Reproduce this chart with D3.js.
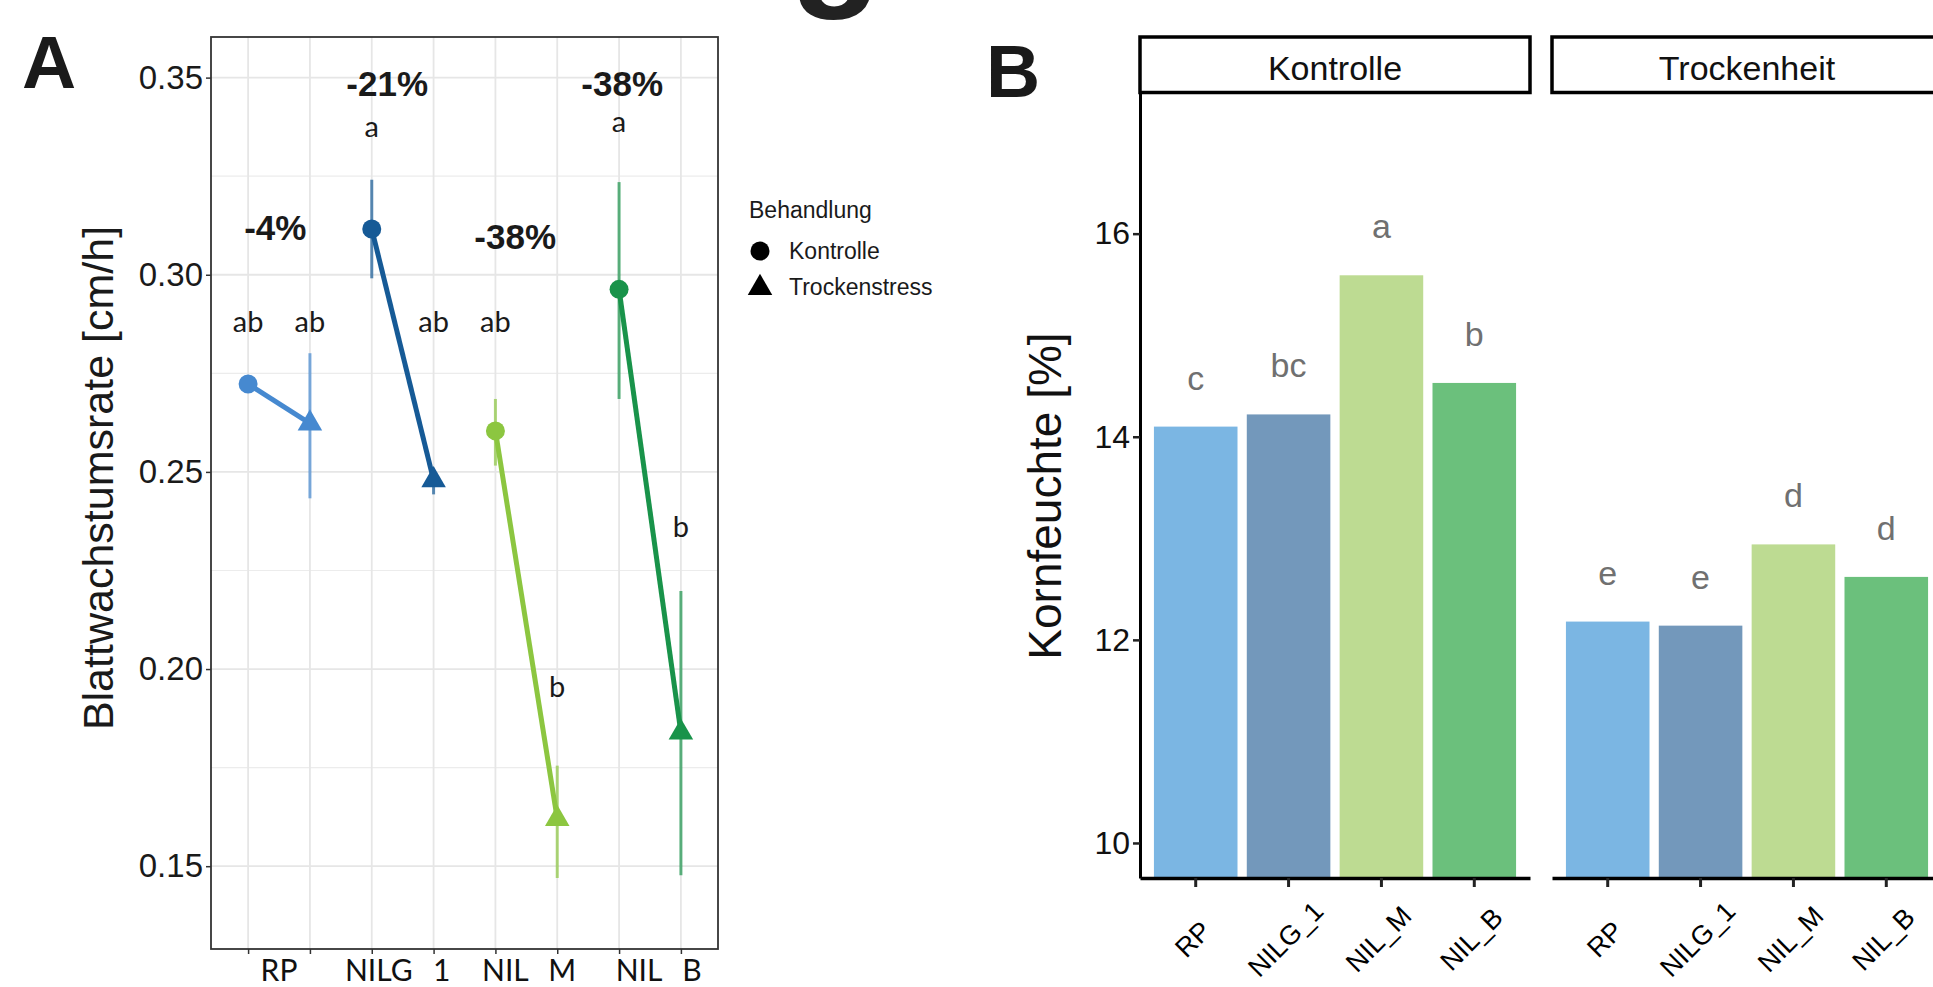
<!DOCTYPE html>
<html>
<head>
<meta charset="utf-8">
<script src="https://cdn.jsdelivr.net/npm/d3@7"></script>
<style>
  body { margin: 0; background: #fff; }
  svg { display: block; }
  text { font-family: "Liberation Sans", Arial, Helvetica, sans-serif; }
</style>
</head>
<body>
<svg id="chart"></svg>
<script>
// ---- data ----
const genotypes = ['RP', 'NILG_1', 'NIL_M', 'NIL_B'];
const treatmentsA = ['Kontrolle', 'Trockenstress'];
const xLabelsA = ['RP', 'NILG 1', 'NIL M', 'NIL B'];
const yTicksA = [0.15, 0.20, 0.25, 0.30, 0.35];
const yMinorA = [0.175, 0.225, 0.275, 0.325];

// leaf growth rate [cm/h], mean and error bar ends
const growthKontrolle = [0.2723, 0.3116, 0.2604, 0.2963];
const growthKontrolleLo = [0.2708, 0.2991, 0.2516, 0.2685];
const growthKontrolleHi = [0.2738, 0.3241, 0.2685, 0.3235];
const growthTrocken = [0.2623, 0.2479, 0.1620, 0.1839];
const growthTrockenLo = [0.2433, 0.2443, 0.1470, 0.1477];
const growthTrockenHi = [0.2801, 0.2505, 0.1755, 0.2198];

// percentage change labels and significance letters (label heights in data units)
const changeLabels = ['-4%', '-21%', '-38%', '-38%'];
const changeLabelY = [0.3088, 0.3453, 0.3065, 0.3453];
const lettersKontrolle = ['ab', 'a', 'ab', 'a'];
const lettersKontrolleY = [0.2855, 0.3349, 0.2855, 0.3362];
const lettersTrocken = ['ab', 'ab', 'b', 'b'];
const lettersTrockenY = [0.2855, 0.2855, 0.1929, 0.2335];

// grain moisture [%]
const facets = ['Kontrolle', 'Trockenheit'];
const moistureKontrolle = [14.10, 14.22, 15.59, 14.53];
const moistureTrocken = [12.18, 12.14, 12.94, 12.62];
const moistureLettersK = ['c', 'bc', 'a', 'b'];
const moistureLettersT = ['e', 'e', 'd', 'd'];
const yTicksB = [10, 12, 14, 16];

const colorsA = ['#4689d0', '#165a96', '#8cc640', '#19934a'];
const colorsB = ['#7bb6e3', '#7398bb', '#bddb92', '#6bc07c'];

// ---- svg ----
const svg = d3.select('#chart')
    .attr('width', 1933)
    .attr('height', 987);

// bit of the heading that is cut off at the top edge
svg.append('text')
    .attr('x', 790).attr('y', -12)
    .attr('font-size', 150).attr('font-weight', 'bold')
    .attr('fill', '#222')
    .text('g');

// ================= Panel A =================
const pa = {left: 211, right: 718, top: 37, bottom: 949};
const keysA = [];
genotypes.forEach(g => treatmentsA.forEach(t => keysA.push(g + '|' + t)));

const xA = d3.scalePoint().domain(keysA).range([pa.left, pa.right]).padding(0.6);
const yA = d3.scaleLinear().domain([0.129, 0.3603]).range([pa.bottom, pa.top]);

const gA = svg.append('g').attr('id', 'panelA');

svg.append('text')
    .attr('x', 22).attr('y', 88)
    .attr('font-size', 75).attr('font-weight', 'bold')
    .attr('fill', '#1a1a1a')
    .text('A');

// grid
gA.selectAll('line.minor').data(yMinorA).join('line')
    .attr('class', 'minor')
    .attr('x1', pa.left).attr('x2', pa.right)
    .attr('y1', d => yA(d)).attr('y2', d => yA(d))
    .attr('stroke', '#ececec').attr('stroke-width', 1.2);
gA.selectAll('line.major').data(yTicksA).join('line')
    .attr('class', 'major')
    .attr('x1', pa.left).attr('x2', pa.right)
    .attr('y1', d => yA(d)).attr('y2', d => yA(d))
    .attr('stroke', '#e6e6e6').attr('stroke-width', 1.8);
gA.selectAll('line.vgrid').data(keysA).join('line')
    .attr('class', 'vgrid')
    .attr('x1', d => xA(d)).attr('x2', d => xA(d))
    .attr('y1', pa.top).attr('y2', pa.bottom)
    .attr('stroke', '#e6e6e6').attr('stroke-width', 1.8);

// axes
const axisA = gA.append('g')
    .attr('transform', `translate(${pa.left},0)`)
    .call(d3.axisLeft(yA).tickValues(yTicksA).tickFormat(d3.format('.2f')).tickSize(5).tickPadding(3));
axisA.select('.domain').remove();
axisA.selectAll('.tick line').attr('stroke', '#333').attr('stroke-width', 1.5);
axisA.selectAll('.tick text')
    .attr('font-size', 33).attr('fill', '#1a1a1a')
    .style('font-family', '"Liberation Sans", Arial, sans-serif');

const axisAx = gA.append('g')
    .attr('transform', `translate(0,${pa.bottom})`)
    .call(d3.axisBottom(xA).tickSize(5).tickFormat(''));
axisAx.select('.domain').remove();
axisAx.selectAll('.tick line').attr('stroke', '#333').attr('stroke-width', 1.5);

// x labels: one-word labels sit between their two ticks, two-word labels put a word under each tick
const wordNudge = [[0], [7, 8], [10, 5], [20, 11]];
xLabelsA.forEach((lab, i) => {
    const x0 = xA(keysA[2 * i]), x1 = xA(keysA[2 * i + 1]);
    const words = lab.split(' ');
    words.forEach((w, j) => {
        const x = words.length === 1 ? (x0 + x1) / 2 + wordNudge[i][0] : (j === 0 ? x0 : x1) + wordNudge[i][j];
        gA.append('text')
            .attr('x', x).attr('y', 981)
            .attr('text-anchor', 'middle')
            .attr('font-size', 30).attr('fill', '#111')
            .style('font-family', 'Lato, "Open Sans", sans-serif')
            .text(w);
    });
});

// border
gA.append('rect')
    .attr('x', pa.left).attr('y', pa.top)
    .attr('width', pa.right - pa.left).attr('height', pa.bottom - pa.top)
    .attr('fill', 'none').attr('stroke', '#333').attr('stroke-width', 1.8);

// y title
gA.append('text')
    .attr('transform', `translate(113,478) rotate(-90)`)
    .attr('text-anchor', 'middle')
    .attr('font-size', 43).attr('fill', '#1a1a1a')
    .text('Blattwachstumsrate [cm/h]');

// error bars, connecting lines, points
const rowsA = genotypes.map((g, i) => ({
    i: i,
    k: {x: xA(g + '|Kontrolle'), m: growthKontrolle[i], lo: growthKontrolleLo[i], hi: growthKontrolleHi[i]},
    t: {x: xA(g + '|Trockenstress'), m: growthTrocken[i], lo: growthTrockenLo[i], hi: growthTrockenHi[i]}
}));

rowsA.forEach(r => {
    [r.k, r.t].forEach(p => {
        gA.append('line')
            .attr('x1', p.x).attr('x2', p.x)
            .attr('y1', yA(p.lo)).attr('y2', yA(p.hi))
            .attr('stroke', colorsA[r.i]).attr('stroke-opacity', 0.7).attr('stroke-width', 3);
    });
    gA.append('line')
        .attr('x1', r.k.x).attr('y1', yA(r.k.m))
        .attr('x2', r.t.x).attr('y2', yA(r.t.m))
        .attr('stroke', colorsA[r.i]).attr('stroke-width', 5);
    gA.append('circle')
        .attr('cx', r.k.x).attr('cy', yA(r.k.m)).attr('r', 9.5)
        .attr('fill', colorsA[r.i]);
    gA.append('path')
        .attr('transform', `translate(${r.t.x},${yA(r.t.m)})`)
        .attr('d', d3.symbol(d3.symbolTriangle, 260)())
        .attr('fill', colorsA[r.i]);
});

// change labels
const changeNudge = [0.44, 0.25, 0.32, 0.05];
gA.selectAll('text.change').data(changeLabels).join('text')
    .attr('class', 'change')
    .attr('x', (d, i) => rowsA[i].k.x + changeNudge[i] * (rowsA[i].t.x - rowsA[i].k.x))
    .attr('y', (d, i) => yA(changeLabelY[i]))
    .attr('text-anchor', 'middle')
    .attr('font-size', 35).attr('font-weight', 'bold').attr('fill', '#1a1a1a')
    .text(d => d);

// significance letters
const lettersA = [];
rowsA.forEach(r => {
    lettersA.push({x: r.k.x, y: lettersKontrolleY[r.i], t: lettersKontrolle[r.i]});
    lettersA.push({x: r.t.x, y: lettersTrockenY[r.i], t: lettersTrocken[r.i]});
});
gA.selectAll('text.letter').data(lettersA).join('text')
    .attr('class', 'letter')
    .attr('x', d => d.x).attr('y', d => yA(d.y))
    .attr('text-anchor', 'middle')
    .attr('font-size', 29).attr('fill', '#1a1a1a')
    .style('font-family', 'Lato, "Open Sans", sans-serif')
    .text(d => d.t);

// legend
const leg = svg.append('g').attr('transform', 'translate(749,0)');
leg.append('text').attr('x', 0).attr('y', 218)
    .attr('font-size', 23).attr('fill', '#1a1a1a').text('Behandlung');
leg.append('circle').attr('cx', 11).attr('cy', 251).attr('r', 9.5).attr('fill', '#000');
leg.append('path')
    .attr('transform', 'translate(11,288)')
    .attr('d', d3.symbol(d3.symbolTriangle, 260)())
    .attr('fill', '#000');
leg.selectAll('text.item').data(treatmentsA).join('text')
    .attr('class', 'item')
    .attr('x', 40).attr('y', (d, i) => 259 + i * 36)
    .attr('font-size', 23).attr('fill', '#1a1a1a')
    .text(d => d);

// ================= Panel B =================
const pb = {top: 92.5, bottom: 878, stripTop: 37, width: 390};
const facetLeft = [1140, 1552];
const xB = d3.scaleBand().domain(genotypes).range([0, pb.width]).paddingInner(0.1).paddingOuter(0.15);
const yB = d3.scaleLinear().domain([9.655, 17.39]).range([pb.bottom, pb.top]);

svg.append('text')
    .attr('x', 986).attr('y', 97)
    .attr('font-size', 75).attr('font-weight', 'bold')
    .attr('fill', '#1a1a1a')
    .text('B');

svg.append('text')
    .attr('transform', `translate(1061,496) rotate(-90)`)
    .attr('text-anchor', 'middle')
    .attr('font-size', 46).attr('fill', '#111')
    .text('Kornfeuchte [%]');

const valuesB = [moistureKontrolle, moistureTrocken];
const lettersB = [moistureLettersK, moistureLettersT];

facets.forEach((f, fi) => {
    const g = svg.append('g').attr('transform', `translate(${facetLeft[fi]},0)`);

    g.selectAll('rect.bar').data(genotypes).join('rect')
        .attr('class', 'bar')
        .attr('x', d => xB(d))
        .attr('y', (d, i) => yB(valuesB[fi][i]))
        .attr('width', xB.bandwidth())
        .attr('height', (d, i) => pb.bottom - yB(valuesB[fi][i]))
        .attr('fill', (d, i) => colorsB[i]);

    g.selectAll('text.sig').data(genotypes).join('text')
        .attr('class', 'sig')
        .attr('x', d => xB(d) + xB.bandwidth() / 2)
        .attr('y', (d, i) => yB(valuesB[fi][i]) - 37)
        .attr('text-anchor', 'middle')
        .attr('font-size', 34).attr('fill', '#707070')
        .text((d, i) => lettersB[fi][i]);

    // strip
    g.append('rect')
        .attr('x', 0).attr('y', pb.stripTop)
        .attr('width', pb.width).attr('height', pb.top - pb.stripTop)
        .attr('fill', '#fff').attr('stroke', '#000').attr('stroke-width', 3.5);
    g.append('text')
        .attr('x', pb.width / 2).attr('y', 80)
        .attr('text-anchor', 'middle')
        .attr('font-size', 34).attr('fill', '#111')
        .text(f);

    // x axis
    const ax = g.append('g')
        .attr('transform', `translate(0,${pb.bottom})`)
        .call(d3.axisBottom(xB).tickSize(9).tickSizeOuter(0).tickFormat(''));
    ax.select('.domain').attr('stroke', '#000').attr('stroke-width', 3.5);
    ax.selectAll('.tick line').attr('stroke', '#222').attr('stroke-width', 3);

    g.selectAll('text.xlab').data(genotypes).join('text')
        .attr('class', 'xlab')
        .attr('transform', d => `translate(${xB(d) + xB.bandwidth() / 2 - 3},939) rotate(-45)`)
        .attr('text-anchor', 'middle')
        .attr('dy', '0.35em')
        .attr('font-size', 27).attr('fill', '#000')
        .text(d => d);

    if (fi === 0) {
        const ay = g.append('g')
            .call(d3.axisLeft(yB).tickValues(yTicksB).tickSize(7).tickSizeOuter(0).tickPadding(3));
        ay.select('.domain').attr('stroke', '#000').attr('stroke-width', 3);
        ay.selectAll('.tick line').attr('stroke', '#222').attr('stroke-width', 2.5);
        ay.selectAll('.tick text')
            .attr('font-size', 32).attr('fill', '#111')
            .style('font-family', '"Liberation Sans", Arial, sans-serif');
    }
});
</script>
</body>
</html>
